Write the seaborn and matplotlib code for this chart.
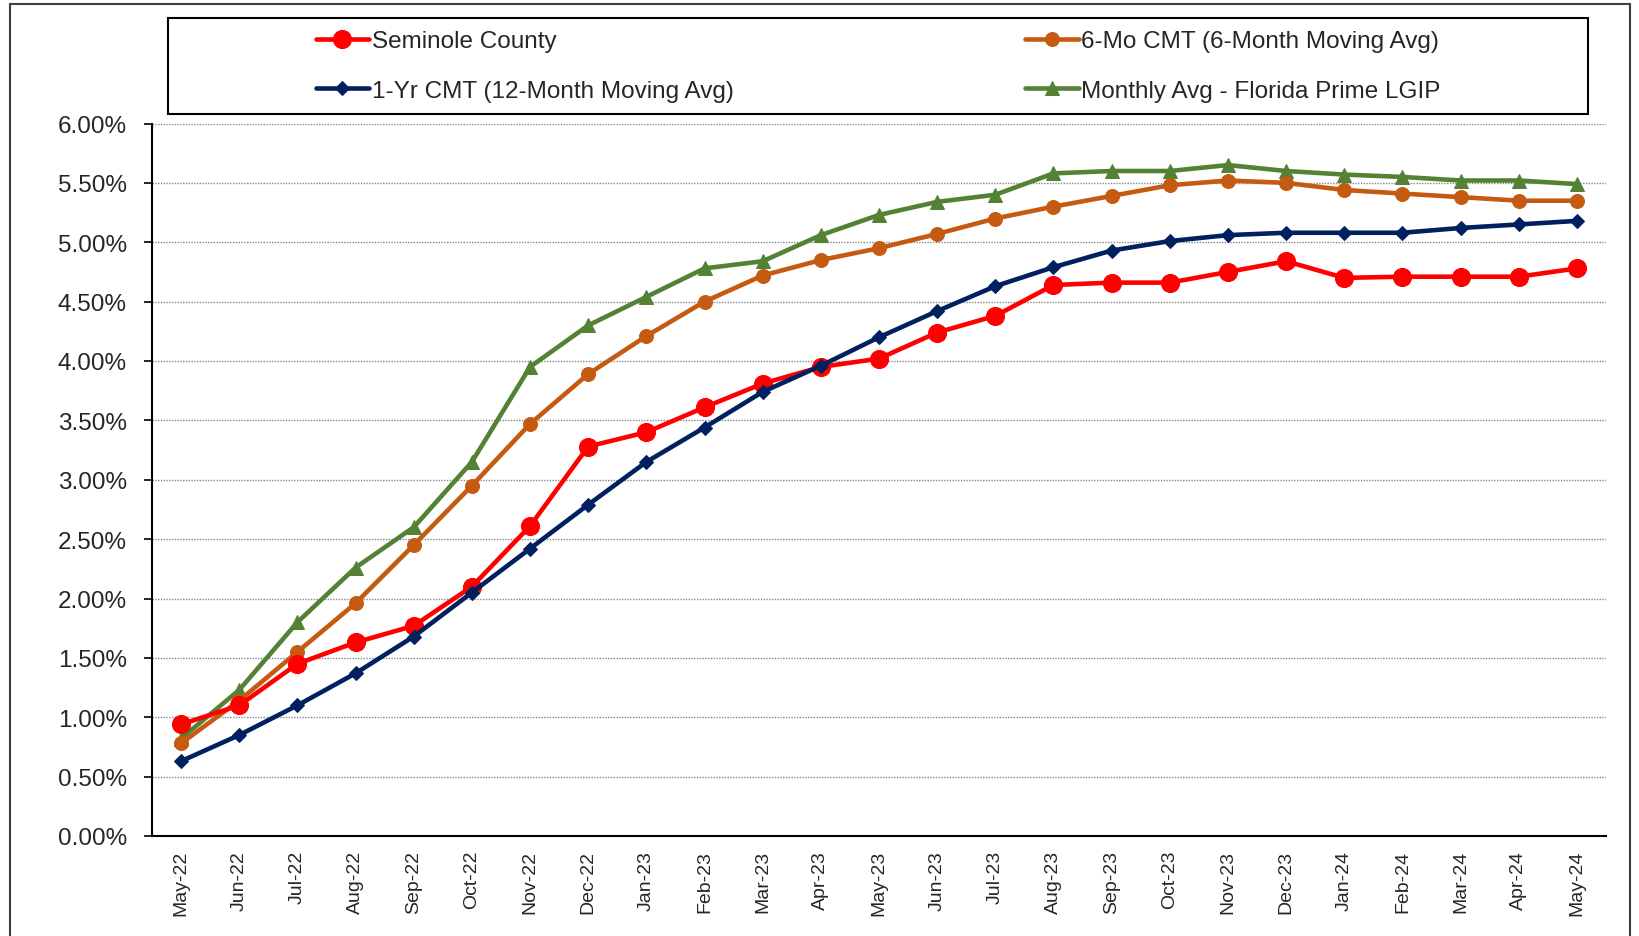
import numpy as np
import pandas as pd
import matplotlib
matplotlib.use("Agg")
import matplotlib.pyplot as plt
from matplotlib.patches import Rectangle
from matplotlib.ticker import FixedLocator, PercentFormatter
import seaborn as sns

months = ["May-22", "Jun-22", "Jul-22", "Aug-22", "Sep-22", "Oct-22", "Nov-22", "Dec-22",
          "Jan-23", "Feb-23", "Mar-23", "Apr-23", "May-23", "Jun-23", "Jul-23", "Aug-23",
          "Sep-23", "Oct-23", "Nov-23", "Dec-23", "Jan-24", "Feb-24", "Mar-24", "Apr-24",
          "May-24"]

seminole = [0.94, 1.10, 1.45, 1.63, 1.77, 2.10, 2.61, 3.28, 3.40, 3.61, 3.81, 3.95, 4.02,
            4.24, 4.38, 4.64, 4.66, 4.66, 4.75, 4.84, 4.70, 4.71, 4.71, 4.71, 4.78]
cmt_6mo = [0.78, 1.14, 1.55, 1.96, 2.45, 2.95, 3.47, 3.89, 4.21, 4.50, 4.72, 4.85, 4.95,
           5.07, 5.20, 5.30, 5.39, 5.48, 5.52, 5.50, 5.44, 5.41, 5.38, 5.35, 5.35]
cmt_1yr = [0.63, 0.85, 1.10, 1.37, 1.68, 2.05, 2.42, 2.79, 3.15, 3.44, 3.74, 3.96, 4.20,
           4.42, 4.63, 4.79, 4.93, 5.01, 5.06, 5.08, 5.08, 5.08, 5.12, 5.15, 5.18]
fl_prime = [0.82, 1.23, 1.80, 2.26, 2.60, 3.15, 3.95, 4.30, 4.54, 4.78, 4.84, 5.06, 5.23,
            5.34, 5.40, 5.58, 5.60, 5.60, 5.65, 5.60, 5.57, 5.55, 5.52, 5.52, 5.49]

series_names = ["Seminole County", "1-Yr CMT (12-Month Moving Avg)",
                "6-Mo CMT (6-Month Moving Avg)", "Monthly Avg - Florida Prime LGIP"]

df = pd.DataFrame({
    "month": months,
    "idx": np.arange(len(months)),
    series_names[0]: seminole,
    series_names[1]: cmt_1yr,
    series_names[2]: cmt_6mo,
    series_names[3]: fl_prime,
})

styles = {
    series_names[0]: dict(color="#FF0000", marker="o", markersize=13, zorder=3),
    series_names[1]: dict(color="#002060", marker="D", markersize=7.5, zorder=4),
    series_names[2]: dict(color="#C55A11", marker="o", markersize=10, zorder=2),
    series_names[3]: dict(color="#548235", marker="^", markersize=10.5, zorder=1),
}

sns.set_theme(style="white")
plt.rcParams["font.family"] = ["Liberation Sans", "DejaVu Sans"]

fig = plt.figure(figsize=(16.4, 9.37), dpi=100)
ax = fig.add_axes([152 / 1640, 100 / 937, 1454 / 1640, 712.5 / 937])

for name in series_names:
    st = styles[name]
    sns.lineplot(data=df, x="idx", y=name, ax=ax, color=st["color"], marker=st["marker"],
                 markersize=st["markersize"], markeredgecolor=st["color"], linewidth=3.3,
                 zorder=st["zorder"], label=name, legend=False)

ax.set_xlim(-0.5, len(months) - 0.5)
ax.set_ylim(0, 6)
ax.set_xlabel("")
ax.set_ylabel("")

# category labels at centers, tick marks at boundaries
ax.set_xticks(df["idx"])
ax.set_xticklabels(months, rotation=90, fontsize=14)
ax.tick_params(axis="x", which="major", length=0, pad=10)
ax.xaxis.set_minor_locator(FixedLocator(np.arange(-0.5, len(months), 1.0)))
ax.tick_params(axis="x", which="minor", length=6, width=1.2, color="black", direction="out")

ax.set_yticks(np.arange(0, 6.01, 0.5))
ax.yaxis.set_major_formatter(PercentFormatter(decimals=2))
ax.tick_params(axis="y", length=6, width=1.2, color="black", direction="out",
               labelsize=17.5, pad=12)
ax.tick_params(left=True, bottom=False)

ax.grid(axis="y", linestyle=(0, (1, 1)), color="#888888", linewidth=1)
ax.set_axisbelow(True)
for side in ["top", "right"]:
    ax.spines[side].set_visible(False)
for side in ["left", "bottom"]:
    ax.spines[side].set_color("black")
    ax.spines[side].set_linewidth(1.5)

# legend in a framed box above the plot
handles, labels = ax.get_legend_handles_labels()
fig.patches.append(Rectangle((168 / 1640, 1 - 115 / 937), 1420 / 1640, 96 / 937,
                             transform=fig.transFigure, fill=False,
                             edgecolor="black", linewidth=1.5))
fig.legend(handles, labels, ncol=2, frameon=False, fontsize=17.5,
           loc="center left", bbox_to_anchor=(306 / 1640, 1 - 67 / 937),
           handlelength=2.2, handletextpad=0.1, columnspacing=12.0, labelspacing=1.15,
           borderaxespad=0)

# outer chart frame
fig.patches.append(Rectangle((10 / 1640, -0.05), 1620 / 1640, 1.045,
                             transform=fig.transFigure, fill=False,
                             edgecolor="#404040", linewidth=1.5))

fig.savefig("out.png", dpi=100)
plt.close(fig)
